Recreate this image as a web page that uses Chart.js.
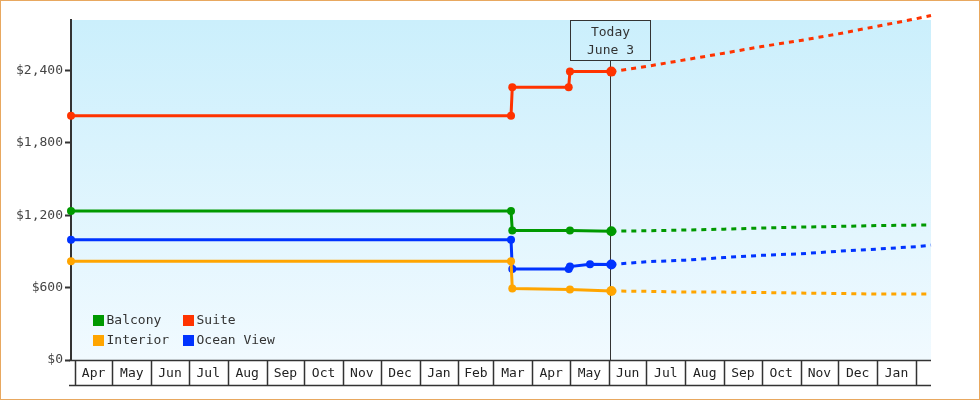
<!DOCTYPE html>
<html>
<head>
<meta charset="utf-8">
<script src="https://cdn.jsdelivr.net/npm/chart.js@4/dist/chart.umd.min.js"></script>
<style>
    body { margin: 0; background: #fff; }
    #wrap { width: 980px; height: 400px; position: relative; }
</style>
</head>
<body>
<div id="wrap"><canvas id="fareChart" width="980" height="400"></canvas></div>
<script>
// month boxes on the x axis (the last box has no label)
const monthLabels = ['Apr', 'May', 'Jun', 'Jul', 'Aug', 'Sep', 'Oct', 'Nov', 'Dec', 'Jan', 'Feb', 'Mar',
                     'Apr', 'May', 'Jun', 'Jul', 'Aug', 'Sep', 'Oct', 'Nov', 'Dec', 'Jan'];
const monthStarts = ['2018-04-01', '2018-05-01', '2018-06-01', '2018-07-01', '2018-08-01', '2018-09-01',
                     '2018-10-01', '2018-11-01', '2018-12-01', '2019-01-01', '2019-02-01', '2019-03-01',
                     '2019-04-01', '2019-05-01', '2019-06-01', '2019-07-01', '2019-08-01', '2019-09-01',
                     '2019-10-01', '2019-11-01', '2019-12-01', '2020-01-01', '2020-02-01'];
const axisStart = '2018-03-29';
const axisEnd = '2020-02-13';
const todayDate = '2019-06-03';
const todayLabel = ['Today', 'June 3'];
const yTicks = [0, 600, 1200, 1800, 2400];

// price history (solid) and forecast (dotted)
const balconyDates = ['2018-03-29', '2019-03-15', '2019-03-16', '2019-05-01', '2019-06-03'];
const balconyPrices = [1235, 1235, 1074, 1074, 1068];
const suiteDates = ['2018-03-29', '2019-03-15', '2019-03-16', '2019-04-30', '2019-05-01', '2019-06-03'];
const suitePrices = [2025, 2025, 2262, 2262, 2392, 2392];
const interiorDates = ['2018-03-29', '2019-03-15', '2019-03-16', '2019-05-01', '2019-06-03'];
const interiorPrices = [820, 820, 593, 585, 572];
const oceanDates = ['2018-03-29', '2019-03-15', '2019-03-16', '2019-04-30', '2019-05-01', '2019-05-17', '2019-06-03'];
const oceanPrices = [997, 997, 754, 754, 775, 795, 792];

const forecastDates = ['2019-06-03', '2019-07-01', '2019-08-01', '2019-09-01', '2019-10-01',
                       '2019-11-01', '2019-12-01', '2020-01-01', '2020-02-01', '2020-02-13'];
const balconyForecast = [1068, 1072, 1078, 1085, 1095, 1102, 1108, 1115, 1119, 1120];
const suiteForecast = [2392, 2435, 2490, 2545, 2600, 2650, 2705, 2768, 2830, 2857];
const interiorForecast = [572, 570, 563, 563, 560, 555, 552, 547, 547, 547];
const oceanForecast = [792, 815, 828, 850, 868, 881, 902, 920, 940, 953];

const FONT = "'DejaVu Sans Mono', monospace";

function dayOf(s) {
    const p = s.split('-');
    return (Date.UTC(+p[0], +p[1] - 1, +p[2]) - Date.UTC(2018, 3, 1)) / 86400000;
}

function toPoints(dates, values) {
    return dates.map(function (d, i) { return { x: dayOf(d), y: values[i] }; });
}

function historySet(label, color, dates, values) {
    const pts = toPoints(dates, values);
    return {
        label: label,
        data: pts,
        borderColor: color,
        backgroundColor: color,
        borderWidth: 3,
        pointStyle: 'circle',
        pointRadius: pts.map(function (p, i) { return i === pts.length - 1 ? 5 : 4; }),
        pointBorderWidth: 0,
        clip: false
    };
}

function forecastSet(label, color, values) {
    return {
        label: label + ' forecast',
        data: toPoints(forecastDates, values),
        borderColor: color,
        borderWidth: 3,
        borderDash: [5, 5],
        pointRadius: 0,
        clip: false
    };
}

const monthMids = monthLabels.map(function (m, i) {
    return (dayOf(monthStarts[i]) + dayOf(monthStarts[i + 1])) / 2;
});

const decorPlugin = {
    id: 'decor',
    beforeDraw: function (chart) {
        const ctx = chart.ctx;
        const a = chart.chartArea;
        ctx.save();
        const g = ctx.createLinearGradient(0, a.top, 0, a.bottom);
        g.addColorStop(0, '#cbeffc');
        g.addColorStop(1, '#f1faff');
        ctx.fillStyle = g;
        ctx.fillRect(a.left, a.top, a.right - a.left, a.bottom - a.top);
        ctx.restore();
    },
    beforeDatasetsDraw: function (chart) {
        const ctx = chart.ctx;
        const a = chart.chartArea;
        const x = Math.round(chart.scales.x.getPixelForValue(dayOf(todayDate))) - 0.5;
        ctx.save();
        ctx.strokeStyle = '#333';
        ctx.lineWidth = 1;
        ctx.beginPath();
        ctx.moveTo(x, a.top + 40);
        ctx.lineTo(x, a.bottom);
        ctx.stroke();
        ctx.strokeRect(x - 40, a.top + 0.5, 80, 40);
        ctx.fillStyle = '#333';
        ctx.font = '13px ' + FONT;
        ctx.textAlign = 'center';
        ctx.textBaseline = 'middle';
        ctx.fillText(todayLabel[0], x, a.top + 13);
        ctx.fillText(todayLabel[1], x, a.top + 30.5);
        ctx.restore();
    },
    afterDraw: function (chart) {
        const ctx = chart.ctx;
        const a = chart.chartArea;
        const xs = chart.scales.x;
        ctx.save();
        // month boxes
        ctx.strokeStyle = '#333';
        ctx.lineWidth = 1.5;
        ctx.beginPath();
        ctx.moveTo(a.left - 2, a.bottom + 0.5);
        ctx.lineTo(a.right, a.bottom + 0.5);
        ctx.moveTo(a.left - 2, a.bottom + 25.5);
        ctx.lineTo(a.right, a.bottom + 25.5);
        monthStarts.forEach(function (d) {
            const px = Math.round(xs.getPixelForValue(dayOf(d))) + 0.5;
            ctx.moveTo(px, a.bottom);
            ctx.lineTo(px, a.bottom + 25);
        });
        ctx.stroke();

        // legend inside the plot
        const items = [
            ['Balcony', '#009900', 93, 315], ['Suite', '#ff3300', 183, 315],
            ['Interior', '#ffa500', 93, 335], ['Ocean View', '#0033ff', 183, 335]
        ];
        ctx.font = '13px ' + FONT;
        ctx.textBaseline = 'middle';
        items.forEach(function (it) {
            ctx.fillStyle = it[1];
            ctx.fillRect(it[2], it[3], 11, 11);
            ctx.fillStyle = '#333';
            ctx.fillText(it[0], it[2] + 13.5, it[3] + 6);
        });

        // outer frame
        ctx.strokeStyle = '#e8a860';
        ctx.lineWidth = 1;
        ctx.strokeRect(0.5, 0.5, chart.width - 1, chart.height - 1);
        ctx.restore();
    }
};

const ctx = document.getElementById('fareChart');
new Chart(ctx, {
    type: 'line',
    data: {
        datasets: [
            forecastSet('Suite', '#ff3300', suiteForecast),
            forecastSet('Balcony', '#009900', balconyForecast),
            forecastSet('Ocean View', '#0033ff', oceanForecast),
            forecastSet('Interior', '#ffa500', interiorForecast),
            historySet('Interior', '#ffa500', interiorDates, interiorPrices),
            historySet('Ocean View', '#0033ff', oceanDates, oceanPrices),
            historySet('Balcony', '#009900', balconyDates, balconyPrices),
            historySet('Suite', '#ff3300', suiteDates, suitePrices)
        ]
    },
    options: {
        responsive: false,
        animation: false,
        layout: { padding: { top: 20, right: 49, bottom: 0, left: 0 } },
        plugins: {
            legend: { display: false },
            tooltip: { enabled: false }
        },
        scales: {
            x: {
                type: 'linear',
                min: dayOf(axisStart),
                max: dayOf(axisEnd),
                afterBuildTicks: function (scale) {
                    scale.ticks = monthMids.map(function (v) { return { value: v }; });
                },
                afterFit: function (scale) { scale.height = 40; },
                grid: { display: false },
                border: { display: false },
                ticks: {
                    autoSkip: false,
                    maxRotation: 0,
                    padding: -2,
                    color: '#222',
                    font: { family: FONT, size: 13 },
                    callback: function (v, i) { return monthLabels[i]; }
                }
            },
            y: {
                min: 0,
                max: 2820,
                afterBuildTicks: function (scale) {
                    scale.ticks = yTicks.map(function (v) { return { value: v }; });
                },
                afterFit: function (scale) { scale.width = 71; },
                grid: { drawOnChartArea: false, tickLength: 6, tickWidth: 2, tickColor: '#333' },
                border: { display: true, color: '#333', width: 2 },
                ticks: {
                    padding: 2,
                    color: '#444',
                    font: { family: FONT, size: 13 },
                    callback: function (v) { return '$' + v.toLocaleString('en-US'); }
                }
            }
        }
    },
    plugins: [decorPlugin]
});
</script>
</body>
</html>
